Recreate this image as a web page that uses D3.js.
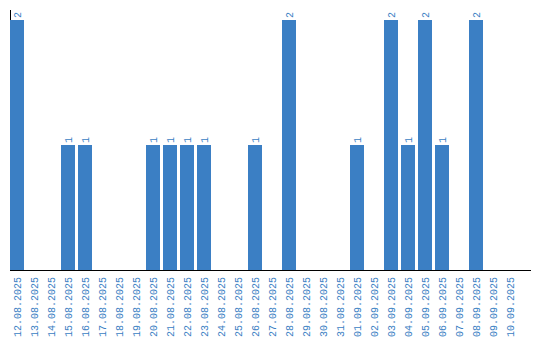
<!DOCTYPE html>
<html lang="en">
<head>
  <meta charset="UTF-8">
  <title>Daily counts</title>
  <script src="https://d3js.org/d3.v7.min.js"></script>
  <style>
    body { margin: 0; background: #fff; }
    text { font-family: "Liberation Mono", "DejaVu Sans Mono", monospace; font-size: 10px; fill: #3a7ec3; }
  </style>
</head>
<body>
  <svg id="chart" width="540" height="340"></svg>
  <script>
    // dates shown on the x axis
    const dates = [
      "12.08.2025", "13.08.2025", "14.08.2025", "15.08.2025", "16.08.2025",
      "17.08.2025", "18.08.2025", "19.08.2025", "20.08.2025", "21.08.2025",
      "22.08.2025", "23.08.2025", "24.08.2025", "25.08.2025", "26.08.2025",
      "27.08.2025", "28.08.2025", "29.08.2025", "30.08.2025", "31.08.2025",
      "01.09.2025", "02.09.2025", "03.09.2025", "04.09.2025", "05.09.2025",
      "06.09.2025", "07.09.2025", "08.09.2025", "09.09.2025", "10.09.2025"
    ];
    // count per day
    const counts = [
      2, 0, 0, 1, 1, 0, 0, 0, 1, 1,
      1, 1, 0, 0, 1, 0, 2, 0, 0, 0,
      1, 0, 2, 1, 2, 1, 0, 2, 0, 0
    ];

    const svg = d3.select("#chart");
    const baseY = 270, topY = 20, left = 10, axisEnd = 531;

    const x = d3.scaleBand()
      .domain(dates)
      .range([left, left + 17 * 30 - 3])
      .paddingInner(3 / 17)
      .paddingOuter(0);

    const y = d3.scaleLinear()
      .domain([0, 2])
      .range([baseY, topY]);

    const data = dates.map((d, i) => ({ date: d, value: counts[i] }));

    // y axis line (mostly hidden behind the first bar)
    svg.append("line")
      .attr("x1", left + 0.5).attr("x2", left + 0.5)
      .attr("y1", 10).attr("y2", baseY)
      .attr("stroke", "#000");

    svg.selectAll("rect.bar")
      .data(data.filter(d => d.value > 0))
      .enter()
      .append("rect")
      .attr("class", "bar")
      .attr("x", d => x(d.date))
      .attr("y", d => y(d.value))
      .attr("width", x.bandwidth())
      .attr("height", d => baseY - y(d.value))
      .attr("fill", "#3b7fc4");

    // value labels, rotated
    svg.selectAll("text.val")
      .data(data.filter(d => d.value > 0))
      .enter()
      .append("text")
      .attr("class", "val")
      .attr("transform", d => `translate(${x(d.date) + x.bandwidth() / 2 + 4},${y(d.value) - 2}) rotate(-90)`)
      .attr("text-anchor", "start")
      .text(d => d.value);

    // x axis baseline
    svg.append("line")
      .attr("x1", left).attr("x2", axisEnd)
      .attr("y1", baseY + 0.5).attr("y2", baseY + 0.5)
      .attr("stroke", "#000");

    // date labels, rotated
    svg.selectAll("text.tick")
      .data(dates)
      .enter()
      .append("text")
      .attr("class", "tick")
      .attr("transform", d => `translate(${x(d) + x.bandwidth() / 2 + 4},${baseY + 7}) rotate(-90)`)
      .attr("text-anchor", "end")
      .text(d => d);
  </script>
</body>
</html>
